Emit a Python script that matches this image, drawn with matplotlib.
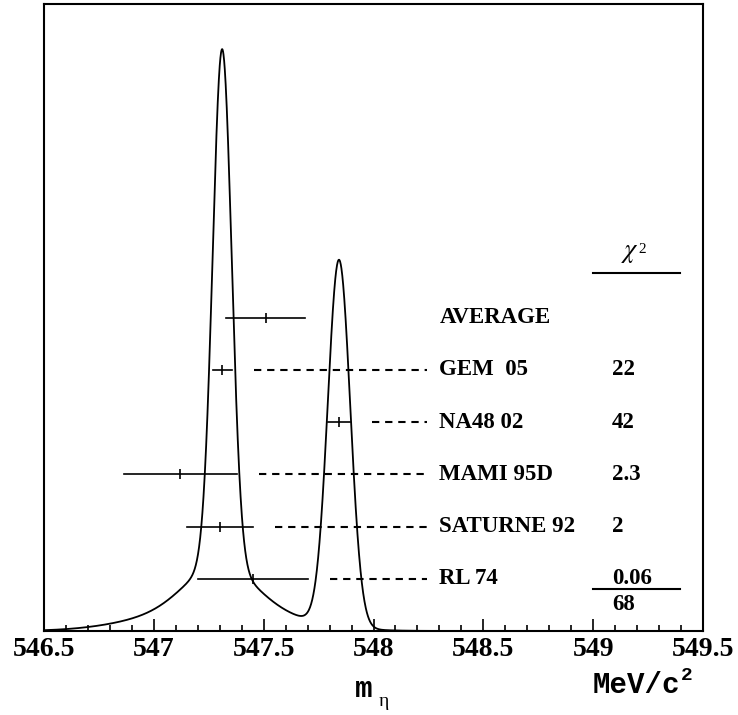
import matplotlib
matplotlib.use('Agg')
import matplotlib.pyplot as plt
import matplotlib.transforms as mtransforms
import numpy as np

# ######################## Data ########################
names = ['GEM  05', 'NA48 02', 'MAMI 95D', 'SATURNE 92', 'RL 74']
masses = [547.311, 547.843, 547.12, 547.30, 547.45]
errors = [0.043, 0.051, 0.257, 0.15, 0.25]
chi2 = ['22', '42', '2.3', '2', '0.06']
chi2_total = '68'
avg_mass = 547.51
avg_err = 0.18
xticks = [546.5, 547, 547.5, 548, 548.5, 549, 549.5]

# ######################## Ideogram ########################
x = np.linspace(546.5, 549.5, 3001)
curve = np.zeros_like(x)
for m, s in zip(masses, errors):
    # area proportional to 1/sigma
    curve += (1.0 / s) * np.exp(-0.5 * ((x - m) / s) ** 2) / (s * np.sqrt(2 * np.pi))

serif = 'Liberation Serif'
mono = 'Liberation Mono'

fig = plt.figure(figsize=(7.38, 7.15), dpi=100)
ax = fig.add_axes([44 / 738, 84 / 715, 659 / 738, 627 / 715])

ax.plot(x, curve, color='black', lw=1.3)
ax.set_xlim(546.5, 549.5)
ax.set_ylim(0, curve.max() / 0.928)

trans = mtransforms.blended_transform_factory(ax.transData, ax.transAxes)

# ######################## Rows ########################
rows = [k / 12 for k in range(5, 0, -1)]
label_x = 548.30
chi_x = 549.085
dash_end = 548.243
fs = 16.5

ax.plot([avg_mass - avg_err, avg_mass + avg_err], [0.5, 0.5], color='black', lw=1.2, transform=trans)
ax.plot([avg_mass], [0.5], marker='|', ms=7, mew=1.2, color='black', transform=trans)
ax.text(label_x, 0.5, 'AVERAGE', transform=trans, family=serif, weight='bold',
        fontsize=fs, va='center', ha='left')

for i in range(len(names)):
    yy = rows[i]
    ax.plot([masses[i] - errors[i], masses[i] + errors[i]], [yy, yy], color='black', lw=1.2, transform=trans)
    ax.plot([masses[i]], [yy], marker='|', ms=7, mew=1.2, color='black', transform=trans)
    ax.plot([masses[i] + errors[i] + 0.1, dash_end], [yy, yy], color='black', lw=1.5,
            linestyle=(0, (3.5, 2.8)), transform=trans)
    ax.text(label_x, yy, names[i], transform=trans, family=serif, weight='bold',
            fontsize=fs, va='center', ha='left')
    ax.text(chi_x, yy, chi2[i], transform=trans, family=serif, weight='bold',
            fontsize=fs, va='center', ha='left')

# chi2 column header and total
ax.text(549.168, 0.5965, r'$\chi$', transform=trans, fontsize=19, math_fontfamily='stix',
        ha='center', va='baseline')
ax.text(549.207, 0.603, '2', transform=trans, family=serif, fontsize=11,
        ha='left', va='baseline')
ax.plot([548.999, 549.395], [0.571, 0.571], color='black', lw=1.5, transform=trans)
ax.plot([548.999, 549.395], [0.067, 0.067], color='black', lw=1.5, transform=trans)
ax.text(chi_x, 0.043, chi2_total, transform=trans, family=serif, weight='bold',
        fontsize=fs, va='center', ha='left')

# ######################## Axes ########################
ax.set_xticks(xticks)
ax.set_xticklabels(['546.5', '547', '547.5', '548', '548.5', '549', '549.5'])
ax.set_xticks(np.arange(546.6, 549.45, 0.1), minor=True)
ax.tick_params(axis='x', which='major', direction='in', length=9, width=1.2, pad=4,
               top=False, labelsize=20)
ax.tick_params(axis='x', which='minor', direction='in', length=4, width=1.2, top=False)
for lab in ax.get_xticklabels():
    lab.set_family(serif)
    lab.set_weight('bold')
ax.set_yticks([])
for sp in ax.spines.values():
    sp.set_linewidth(1.5)

fig.text(355 / 738, (715 - 697) / 715, 'm', family=mono, weight='bold', fontsize=21,
         ha='left', va='baseline')
fig.text(379 / 738, (715 - 706) / 715, 'η', family=serif, fontsize=14,
         ha='left', va='baseline')
fig.text(680 / 738, (715 - 693) / 715, 'MeV/c', family=mono, weight='bold', fontsize=21,
         ha='right', va='baseline')
fig.text(681 / 738, (715 - 680) / 715, '2', family=mono, weight='bold', fontsize=14,
         ha='left', va='baseline')

fig.savefig('out.png', dpi=100)
